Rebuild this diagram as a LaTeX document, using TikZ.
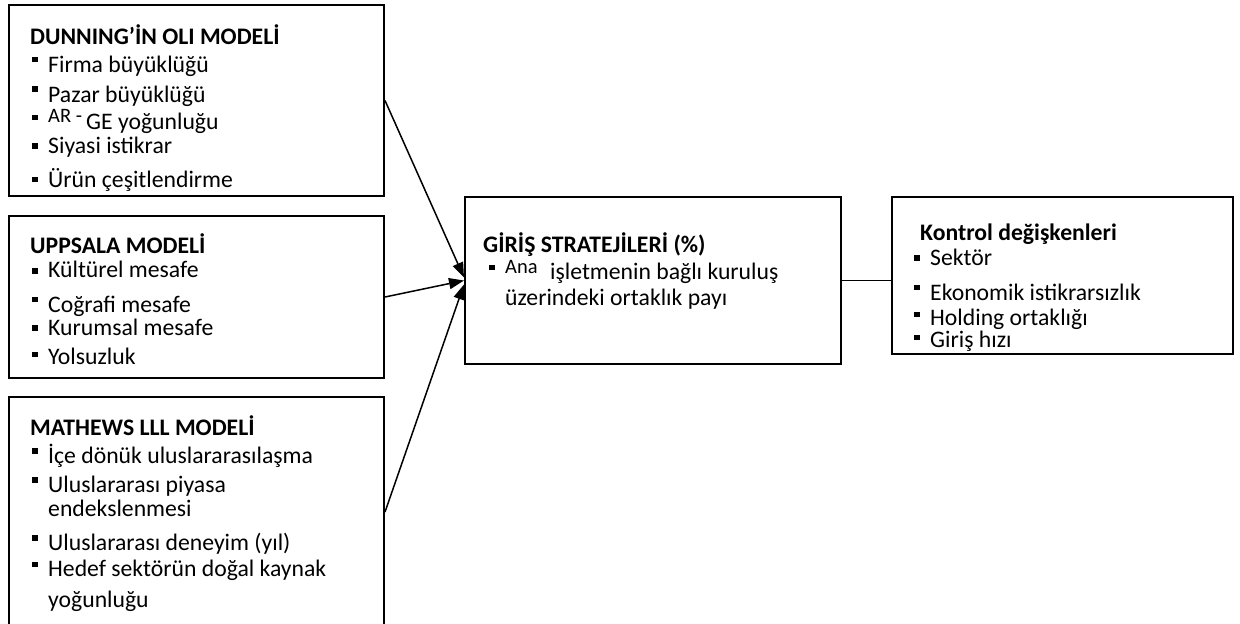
\documentclass[tikz,border=0pt]{standalone}
\usepackage{fontspec}
\setmainfont{Carlito}
\usetikzlibrary{arrows.meta,positioning,calc}
% one bulleted line: name, x, baseline y, bullet lift, text
\newcommand{\ItemLine}[5]{%
  \node[itemtext] (#1) at (#2,#3) {#5};%
  \fill (#2-16,#3-#4-2.8) rectangle ++(5.5,5.5);%
}
\newcommand{\SmallTxt}{\fontsize{20.5}{24}\selectfont}

\begin{document}
\begin{tikzpicture}[x=1pt,y=-1pt,
  box/.style={draw,line width=2pt,inner sep=0pt,anchor=north west},
  itemtext/.style={anchor=base west,inner sep=0pt,font=\fontsize{23.7}{28}\selectfont},
  head/.style={itemtext,font=\fontsize{23.7}{28}\selectfont\bfseries},
  conn/.style={line width=1.5pt,-{Triangle[length=15pt,width=11pt]}},
  link/.style={line width=1.5pt}]
\clip (0,0) rectangle (1240,624);
% frames
\node[box,minimum width=375pt,minimum height=191pt] (oli) at (8,4) {};
\node[box,minimum width=375pt,minimum height=162pt] (upp) at (8,215) {};
\node[box,minimum width=375pt,minimum height=230pt] (lll) at (8,396) {};
\node[box,minimum width=376pt,minimum height=167pt] (giris) at (464,196) {};
\node[box,minimum width=341pt,minimum height=157pt] (kontrol) at (891,196) {};
% OLI
\node[head] (oliT) at (30,44) {DUNNING’İN OLI MODELİ};
\ItemLine{oli1}{48}{72}{12.5}{Firma büyüklüğü}
\ItemLine{oli2}{48}{102}{13}{Pazar büyüklüğü}
\ItemLine{oli3}{48}{122}{4.5}{\SmallTxt AR -}
\node[itemtext] (oli3b) at (86,129) {GE yoğunluğu};
\ItemLine{oli4}{48}{153}{7}{Siyasi istikrar}
\ItemLine{oli5}{48}{187}{7.5}{Ürün çeşitlendirme}
% Uppsala
\node[head] (uppT) at (30,253) {UPPSALA MODELİ};
\ItemLine{upp1}{48}{277}{6}{Kültürel mesafe}
\ItemLine{upp2}{48}{312}{12.5}{Coğrafi mesafe}
\ItemLine{upp3}{48}{335}{7}{Kurumsal mesafe}
\ItemLine{upp4}{48}{364}{9.5}{Yolsuzluk}
% LLL
\node[head] (lllT) at (30,435) {MATHEWS LLL MODELİ};
\ItemLine{lll1}{48}{463}{12}{İçe dönük uluslararasılaşma}
\ItemLine{lll2}{48}{492}{12}{Uluslararası piyasa}
\node[itemtext] (lll2b) at (48,516) {endekslenmesi};
\ItemLine{lll3}{48}{550}{12}{Uluslararası deneyim (yıl)}
\ItemLine{lll4}{48}{576}{11.5}{Hedef sektörün doğal kaynak}
\node[itemtext] (lll4b) at (48,607) {yoğunluğu};
% entry strategy
\node[head] (girisT) at (483,252) {GİRİŞ STRATEJİLERİ (\%)};
\ItemLine{giris1}{505}{273}{5.5}{\SmallTxt Ana}
\node[itemtext] (giris1a) at (550,279) {işletmenin bağlı kuruluş};
\node[itemtext] (giris1b) at (505,305) {üzerindeki ortaklık payı};
% controls
\node[head] (kontrolT) at (920,240) {Kontrol değişkenleri};
\ItemLine{kon1}{930}{265}{7}{Sektör}
\ItemLine{kon2}{930}{300}{12.5}{Ekonomik istikrarsızlık}
\ItemLine{kon3}{930}{325}{10.5}{Holding ortaklığı}
\ItemLine{kon4}{930}{347}{9.5}{Giriş hızı}
% connectors
\draw[conn] (oli.east) -- ([yshift=3pt]giris.west);
\draw[conn] (upp.east) -- (giris.west);
\draw[conn] (lll.east) -- ([yshift=-4pt]giris.west);
\draw[link] (giris.east) -- (giris.east -| kontrol.west);
\end{tikzpicture}
\end{document}
